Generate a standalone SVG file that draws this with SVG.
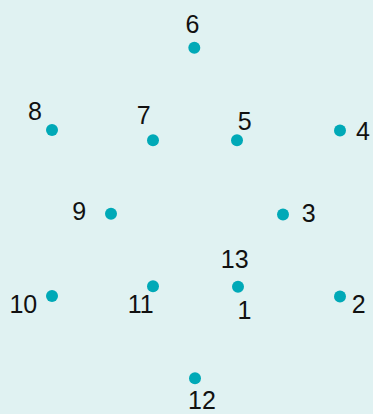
<svg xmlns="http://www.w3.org/2000/svg" width="373" height="414" viewBox="0 0 373 414">
<style>
.dot{fill:#00a9b7}
.lbl{font-family:"Liberation Sans","DejaVu Sans",sans-serif;font-size:25px;fill:#111;text-anchor:middle}
</style>
<rect x="0" y="0" width="373" height="414" fill="#e0f2f2"/>
<g id="connectors"/>
<g id="n6"><circle class="dot" cx="194.3" cy="47.7" r="6"/><text class="lbl" x="192.5" y="33">6</text></g>
<g id="n8"><circle class="dot" cx="52" cy="130" r="6"/><text class="lbl" x="35" y="120">8</text></g>
<g id="n7"><circle class="dot" cx="153" cy="140.3" r="6"/><text class="lbl" x="143.7" y="124">7</text></g>
<g id="n5"><circle class="dot" cx="237" cy="140.3" r="6"/><text class="lbl" x="244.8" y="129.5">5</text></g>
<g id="n4"><circle class="dot" cx="340" cy="130.5" r="6"/><text class="lbl" x="363" y="140">4</text></g>
<g id="n9"><circle class="dot" cx="111" cy="213.7" r="6"/><text class="lbl" x="79.3" y="220">9</text></g>
<g id="n3"><circle class="dot" cx="283" cy="214.5" r="6"/><text class="lbl" x="308.7" y="221.5">3</text></g>
<g id="n1"><circle class="dot" cx="238" cy="286.7" r="6"/><text class="lbl" x="234.7" y="268.3">13</text><text class="lbl" x="244.5" y="319.3">1</text></g>
<g id="n11"><circle class="dot" cx="153" cy="286.3" r="6"/><text class="lbl" x="140.7" y="313.3">11</text></g>
<g id="n10"><circle class="dot" cx="52" cy="296" r="6"/><text class="lbl" x="23.3" y="312.7">10</text></g>
<g id="n2"><circle class="dot" cx="340" cy="296.5" r="6"/><text class="lbl" x="358.7" y="313">2</text></g>
<g id="n12"><circle class="dot" cx="195" cy="378.3" r="6"/><text class="lbl" x="202" y="409">12</text></g>
</svg>
